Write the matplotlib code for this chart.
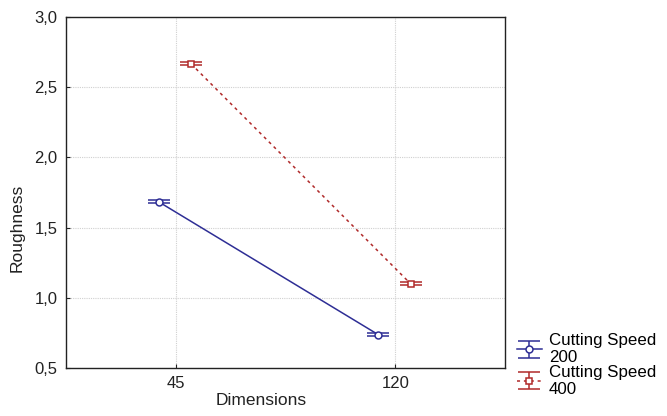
import matplotlib
matplotlib.use("Agg")
import matplotlib.pyplot as plt
from matplotlib.ticker import FuncFormatter
import numpy as np

plt.rcParams['font.family'] = ['Liberation Sans', 'DejaVu Sans']

categories = ['45', '120']
speed200 = [1.684, 0.738]
speed400 = [2.666, 1.100]
err200 = [0.01, 0.01]
err400 = [0.01, 0.01]
series_labels = ['Cutting Speed\n200', 'Cutting Speed\n400']

fig = plt.figure(figsize=(6.67, 4.16), dpi=100)
ax = fig.add_axes([66/667, 1-368/416, (505-66)/667, (368-17)/416])

x = np.arange(len(categories))
blue = '#2e2e95'
red = '#b02a2a'

h1 = ax.errorbar(x - 0.078, speed200, yerr=err200, color=blue, lw=1.1,
                 marker='o', ms=5, mfc='white', mec=blue, mew=1.1,
                 capsize=8, capthick=1.3, elinewidth=1.1, label=series_labels[0])
h2 = ax.errorbar(x + 0.07, speed400, yerr=err400, color=red, lw=1.1, ls=(0, (2, 2.5)),
                 marker='s', ms=5, mfc='white', mec=red, mew=1.1,
                 capsize=8, capthick=1.3, elinewidth=1.1, label=series_labels[1])

ax.set_xlim(-0.5, 1.5)
ax.set_ylim(0.5, 3.0)
ax.set_xticks(x)
ax.set_xticklabels(categories)
ax.set_yticks(np.arange(0.5, 3.01, 0.5))
ax.yaxis.set_major_formatter(FuncFormatter(lambda v, p: f'{v:.1f}'.replace('.', ',')))
ax.tick_params(direction='in', length=3, labelsize=12, colors='#222222', pad=6)
ax.grid(True, color='#d0d0d0', ls=(0, (1, 1)), lw=0.8)
ax.set_axisbelow(True)
for s in ax.spines.values():
    s.set_color('#222222')
    s.set_linewidth(1.0)

ax.set_xlabel('Dimensions', fontsize=12.5, color='#222222')
ax.xaxis.set_label_coords(0.444, -0.07)
ax.set_ylabel('Roughness', fontsize=12.5, color='#222222')
ax.yaxis.set_label_coords(-0.095, 0.40)

leg = fig.legend(handles=[h1, h2], labels=series_labels, loc='lower left',
                 bbox_to_anchor=(510/667, 0.03), frameon=False, fontsize=12.2,
                 handlelength=1.5, handletextpad=0.4, labelspacing=0.0,
                 borderaxespad=0)
for t in leg.get_texts():
    t.set_linespacing(1.15)

fig.savefig('out.png', dpi=100)
